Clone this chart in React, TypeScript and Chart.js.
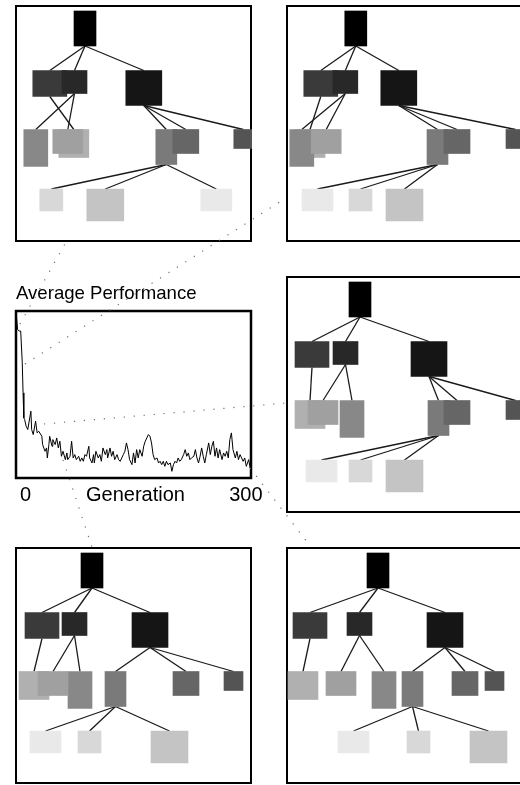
import React, { useEffect, useRef } from 'react';
import { Chart, registerables } from 'chart.js';

Chart.register(...registerables);

const FONT = "'Liberation Sans', Arial, Helvetica, sans-serif";

// ---------- Average performance curve ----------
const generations = [
  0, 2, 4, 6, 8, 9, 10, 11, 13, 15,
  19, 20, 22, 25, 27, 29, 33, 34, 37, 39,
  40, 42, 43, 46, 47, 50, 52, 54, 56, 58,
  60, 63, 65, 66, 69, 71, 73, 75, 77, 80,
  82, 84, 86, 88, 90, 93, 94, 97, 99, 100,
  102, 105, 107, 109, 111, 114, 116, 117, 120, 122,
  124, 126, 129, 131, 133, 135, 137, 139, 141, 143,
  145, 148, 150, 152, 154, 156, 158, 161, 163, 165,
  167, 169, 171, 173, 175, 177, 180, 182, 184, 186,
  188, 190, 192, 194, 197, 199, 201, 203, 205, 207,
  209, 211, 214, 216, 218, 220, 222, 224, 227, 229,
  231, 233, 235, 237, 239, 241, 243, 246, 248, 250,
  252, 254, 256, 258, 260, 263, 265, 267, 269, 271,
  273, 275, 277, 280, 282, 284, 286, 288, 290, 292,
  294, 297, 299, 300,
];
const performance = [
  100, 89, 88, 88, 69, 51, 36, 35, 31, 29,
  40, 29, 26, 34, 27, 28, 25, 20, 16, 18,
  12, 20, 25, 19, 23, 20, 24, 18, 22, 13,
  16, 11, 15, 11, 13, 22, 12, 14, 11, 13,
  10, 12, 10, 14, 13, 19, 12, 9, 14, 9,
  16, 12, 14, 10, 18, 14, 17, 12, 18, 13,
  16, 11, 14, 11, 10, 12, 14, 16, 21, 17,
  11, 8, 15, 9, 17, 12, 17, 13, 19, 22,
  24, 26, 25, 21, 14, 11, 12, 9, 10, 8,
  10, 7, 10, 8, 9, 4, 8, 10, 9, 12,
  10, 11, 14, 17, 13, 15, 11, 12, 13, 17,
  12, 9, 13, 18, 13, 9, 14, 21, 14, 19,
  22, 13, 18, 12, 17, 11, 15, 13, 16, 12,
  23, 27, 17, 12, 16, 11, 14, 12, 10, 12,
  7, 11, 6, 9,
];
const xTickLabels = ['0', 'Generation', '300'];
const chartTitle = 'Average Performance';

// ---------- Tree nodes (shared by all five panels) ----------
// order: root, A, B, C, D, E, F, G, H, I, J, K, L
const nodeLevel = [0, 1, 1, 1, 2, 2, 2, 2, 2, 2, 3, 3, 3];
const nodeParent = [-1, 0, 0, 0, 2, 1, 2, 3, 3, 3, 7, 7, 7];
const nodeShade = [
  '#000000', '#3a3a3a', '#282828', '#151515',
  '#888888', '#b0b0b0', '#a0a0a0', '#7a7a7a', '#666666', '#545454',
  '#d8d8d8', '#c4c4c4', '#e9e9e9',
];
const nodeWidth = [22, 34, 25, 36, 24, 30, 30, 21, 26, 19, 23, 37, 31];
const nodeHeight = [35, 26, 23, 35, 37, 28, 24, 35, 24, 19, 22, 32, 22];
const levelTop = [6, 65.5, 124.5, 184];
const paintOrder = [0, 1, 2, 3, 5, 4, 6, 7, 8, 9, 10, 11, 12];

// node centre positions (panel units) for each of the five trees
const panel1X = [70, 34.8, 59.5, 128.8, 20.8, 58.8, 52.8, 151.3, 170.8, 228.3, 36.3, 90.3, 201.3];
const panel2X = [69.8, 34.8, 59.3, 112.8, 15.8, 24, 40.2, 151.5, 171, 229.5, 74.5, 118.5, 31.5];
const panel3X = [74, 26, 59.5, 143, 66, 24, 37, 152.5, 171, 229.5, 74.5, 118.5, 35.5];
const panel4X = [77, 27, 59.5, 135, 65, 19, 38, 100.5, 171, 218.5, 74.5, 154.5, 30.5];
const panel5X = [92, 24, 73.5, 159, 98, 17, 55, 126.5, 179, 208.5, 132.5, 202.5, 67.5];

const PANEL = 237;

// dotted connectors (page decoration)
const connectors = [
  [25, 364, 286, 198],
  [20, 324, 66, 242],
  [44, 424, 286, 403],
  [63, 460, 92, 547],
  [250, 468, 311, 547],
];

const framePlugin = {
  id: 'frame',
  beforeDatasetsDraw(chart: any, _a: any, opts: any) {
    const { ctx, chartArea: a } = chart;
    const w = opts.width || 2;
    ctx.save();
    ctx.strokeStyle = '#000';
    ctx.lineWidth = w;
    ctx.strokeRect(a.left + w / 2, a.top + w / 2, a.width - w, a.height - w);
    ctx.restore();
  },
};

const plotFramePlugin = {
  id: 'plotFrame',
  afterDatasetsDraw(chart: any) {
    const { ctx, chartArea: a } = chart;
    ctx.save();
    ctx.strokeStyle = '#000';
    ctx.lineWidth = 2.5;
    ctx.strokeRect(a.left, a.top, a.width, a.height);
    ctx.restore();
  },
};

const axisLabelPlugin = {
  id: 'axisLabels',
  afterDraw(chart: any) {
    const { ctx, chartArea: a, scales } = chart;
    const xs = scales.x;
    const y = a.bottom + 22.5;
    ctx.save();
    ctx.fillStyle = '#000';
    ctx.font = `20px ${FONT}`;
    ctx.textBaseline = 'alphabetic';
    ctx.textAlign = 'left';
    ctx.fillText(xTickLabels[0], xs.getPixelForValue(0) + 4, y);
    ctx.textAlign = 'center';
    ctx.fillText(xTickLabels[1], xs.getPixelForValue(150) + 2, y);
    ctx.textAlign = 'right';
    ctx.fillText(xTickLabels[2], xs.getPixelForValue(300) + 11.5, y);
    ctx.restore();
  },
};

function TreePanel({ xs, left, top }: { xs: number[]; left: number; top: number }) {
  const ref = useRef<HTMLCanvasElement>(null);
  useEffect(() => {
    if (!ref.current) return;
    const nodeSets = paintOrder.map((n, i) => ({
      type: 'bar' as const,
      data: [{ x: xs[n], y: [levelTop[nodeLevel[n]], levelTop[nodeLevel[n]] + nodeHeight[n]] }],
      backgroundColor: nodeShade[n],
      borderWidth: 0,
      barThickness: nodeWidth[n],
      stack: 'tree',
      order: paintOrder.length - i,
    }));
    const edgeSets: any[] = [];
    nodeParent.forEach((p, n) => {
      if (p < 0) return;
      edgeSets.push({
        type: 'line' as const,
        data: [
          { x: xs[p], y: levelTop[nodeLevel[p]] + nodeHeight[p] },
          { x: xs[n], y: levelTop[nodeLevel[n]] },
        ],
        borderColor: '#1a1a1a',
        borderWidth: 1.3,
        pointRadius: 0,
        fill: false,
        tension: 0,
        order: 100,
      });
    });
    const chart = new Chart(ref.current, {
      type: 'bar',
      data: { datasets: [...edgeSets, ...nodeSets] as any },
      options: {
        animation: false,
        responsive: false,
        events: [],
        layout: { padding: 0 },
        plugins: {
          legend: { display: false },
          tooltip: { enabled: false },
          title: { display: false },
          frame: { width: 2 },
        } as any,
        scales: {
          x: { type: 'linear', min: 0, max: PANEL, display: false, offset: false },
          y: { type: 'linear', min: 0, max: PANEL, reverse: true, display: false, stacked: false },
        },
      },
      plugins: [framePlugin],
    });
    return () => chart.destroy();
  }, []);
  return (
    <canvas
      ref={ref}
      width={PANEL}
      height={PANEL}
      style={{ position: 'absolute', left, top, width: PANEL, height: PANEL }}
    />
  );
}

function PerformanceChart() {
  const ref = useRef<HTMLCanvasElement>(null);
  useEffect(() => {
    if (!ref.current) return;
    const chart = new Chart(ref.current, {
      type: 'line',
      data: {
        datasets: [
          {
            data: generations.map((g, i) => ({ x: g, y: performance[i] })),
            borderColor: '#000',
            borderWidth: 1,
            pointRadius: 0,
            tension: 0,
            fill: false,
          },
        ],
      },
      options: {
        animation: false,
        responsive: false,
        events: [],
        layout: { padding: { left: 16, right: 29, top: 0, bottom: 32 } },
        plugins: {
          legend: { display: false },
          tooltip: { enabled: false },
          title: {
            display: true,
            text: chartTitle,
            align: 'start',
            color: '#000',
            font: { family: FONT, size: 18.6, weight: 'normal' },
            padding: { top: 13.1, bottom: 5.6 },
          },
        },
        scales: {
          x: { type: 'linear', min: 0, max: 300, display: false },
          y: { type: 'linear', min: 0, max: 100, display: false },
        },
      },
      plugins: [plotFramePlugin, axisLabelPlugin],
    });
    return () => chart.destroy();
  }, []);
  return (
    <canvas
      ref={ref}
      width={280}
      height={240}
      style={{ position: 'absolute', left: 0, top: 270, width: 280, height: 240 }}
    />
  );
}

export default function App() {
  useEffect(() => {
    document.body.style.margin = '0';
    document.body.style.background = '#fff';
  }, []);
  return (
    <div style={{ position: 'relative', width: 520, height: 785, overflow: 'hidden', background: '#fff' }}>
      <TreePanel xs={panel1X} left={15} top={5} />
      <TreePanel xs={panel2X} left={286} top={5} />
      <PerformanceChart />
      <TreePanel xs={panel3X} left={286} top={276} />
      <TreePanel xs={panel4X} left={15} top={547} />
      <TreePanel xs={panel5X} left={286} top={547} />
      <svg
        width={520}
        height={785}
        style={{ position: 'absolute', left: 0, top: 0, pointerEvents: 'none' }}
      >
        {connectors.map(([x1, y1, x2, y2], i) => (
          <line
            key={i}
            x1={x1}
            y1={y1}
            x2={x2}
            y2={y2}
            stroke="#707070"
            strokeWidth={1.2}
            strokeDasharray="1.2 8.8"
          />
        ))}
      </svg>
    </div>
  );
}
